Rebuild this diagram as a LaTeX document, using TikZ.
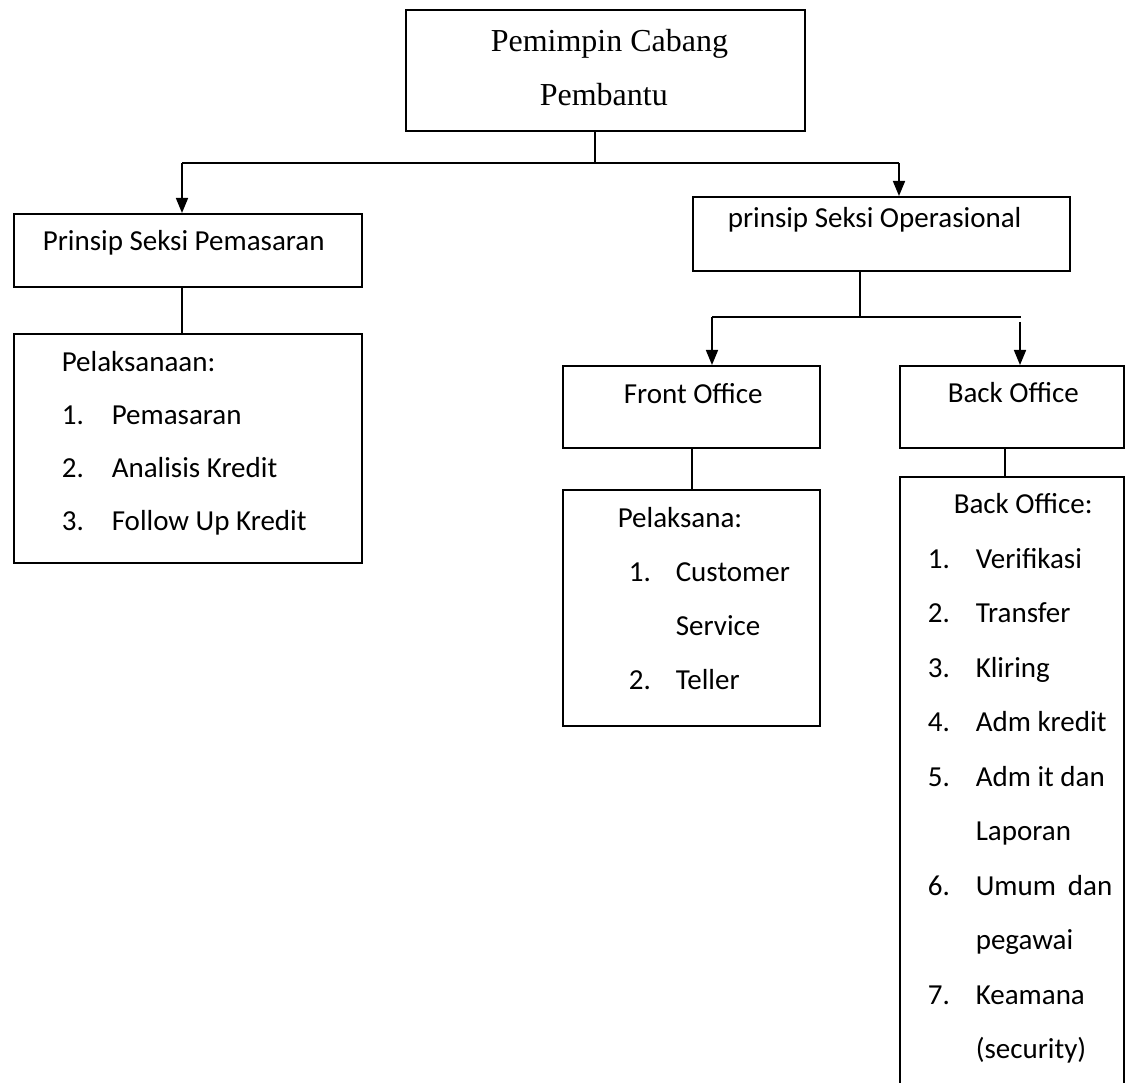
\documentclass[tikz,border=0pt]{standalone}
\usepackage{fontspec}
\setmainfont{Carlito}
\newfontfamily\timesfont{Liberation Serif}
\usetikzlibrary{arrows.meta}

\tikzset{
  box/.style={draw, line width=1.6pt, inner sep=0pt, anchor=north west, align=left,
    execute at begin node={\spaceskip=0pt\xspaceskip=0pt\relax}},
  arr/.style={-{Triangle[length=15pt,width=12pt]}}
}
\newcommand{\itemnum}[2]{\makebox[#1][l]{#2}}

\begin{document}
\begin{tikzpicture}[x=1pt,y=-1pt,line width=1.6pt]
		\fill[white] (0,0) rectangle (1125,1083);
		\useasboundingbox (0,0) rectangle (1125,1083);

		\draw (405,9) node [box, text width=399pt, text height=42pt, text depth=79pt, font=\timesfont\fontsize{32}{54}\selectfont] (top) {\hspace*{85pt}Pemimpin Cabang\\\hspace*{134pt}Pembantu};
		\draw (13,213) node [box, text width=348pt, text height=37pt, text depth=36pt, font=\fontsize{29}{53}\selectfont] (pem) {\hspace*{29pt}Prinsip Seksi Pemasaran};
		\draw (13,333) node [box, text width=348pt, text height=38pt, text depth=191pt, font=\fontsize{29}{53}\selectfont] (plist) {\hspace*{48pt}Pelaksanaan:\\
			\hspace*{48pt}\itemnum{50pt}{1.}\mbox{Pemasaran}\\
			\hspace*{48pt}\itemnum{50pt}{2.}\mbox{Analisis Kredit}\\
			\hspace*{48pt}\itemnum{50pt}{3.}\mbox{Follow Up Kredit}};
		\draw (692,196) node [box, text width=377pt, text height=31pt, text depth=43pt, font=\fontsize{29}{53}\selectfont] (ops) {\hspace*{35pt}prinsip Seksi Operasional};
		\draw (562,365) node [box, text width=257pt, text height=38pt, text depth=44pt, font=\fontsize{29}{54}\selectfont] (front) {\hspace*{61pt}Front Office};
		\draw (562,489) node [box, text width=257pt, text height=38pt, text depth=198pt, font=\fontsize{29}{54}\selectfont] (flist) {\hspace*{55pt}Pelaksana:\\
			\hspace*{66pt}\itemnum{47pt}{1.}\mbox{Customer}\\
			\hspace*{113pt}\mbox{Service}\\
			\hspace*{66pt}\itemnum{47pt}{2.}\mbox{Teller}};
		\draw (899,365) node [box, text width=224pt, text height=37pt, text depth=45pt, font=\fontsize{29}{54.5}\selectfont] (back) {\hspace*{48pt}Back Office};
		\draw (899,476) node [box, text width=224pt, text height=37pt, text depth=590pt, font=\fontsize{29}{54.5}\selectfont] (blist) {\hspace*{54pt}Back Office:\\
			\hspace*{28pt}\itemnum{48pt}{1.}\mbox{Verifikasi}\\
			\hspace*{28pt}\itemnum{48pt}{2.}\mbox{Transfer}\\
			\hspace*{28pt}\itemnum{48pt}{3.}\mbox{Kliring}\\
			\hspace*{28pt}\itemnum{48pt}{4.}\mbox{Adm kredit}\\
			\hspace*{28pt}\itemnum{48pt}{5.}\mbox{Adm it dan}\\
			\hspace*{76pt}\mbox{Laporan}\\
			\hspace*{28pt}\itemnum{48pt}{6.}\mbox{Umum\hspace{12pt}dan}\\
			\hspace*{76pt}\mbox{pegawai}\\
			\hspace*{28pt}\itemnum{48pt}{7.}\mbox{Keamana}\\
			\hspace*{76pt}\mbox{(security)}};

		\coordinate (t1) at (595,163);
		\coordinate (a1) at (182,163);
		\coordinate (a2) at (899,163);
		\coordinate (b0) at (860,317);
		\coordinate (b1) at (712,317);
		\coordinate (b2) at (1021,317);
		\coordinate (b3) at (1020,322);
		\coordinate (c1) at (692,0);
		\coordinate (c2) at (1005,0);

		\draw (t1 |- top.south) -- (t1);
		\draw (a1) -- (a2);
		\draw [arr] (a1) -- (a1 |- pem.north);
		\draw [arr] (a2) -- (a2 |- ops.north);
		\draw (a1 |- pem.south) -- (a1 |- plist.north);
		\draw (b0 |- ops.south) -- (b0);
		\draw (b1) -- (b2);
		\draw [arr] (b1) -- (b1 |- front.north);
		\draw [arr] (b3) -- (b3 |- back.north);
		\draw (c1 |- front.south) -- (c1 |- flist.north);
		\draw (c2 |- back.south) -- (c2 |- blist.north);
\end{tikzpicture}
\end{document}
